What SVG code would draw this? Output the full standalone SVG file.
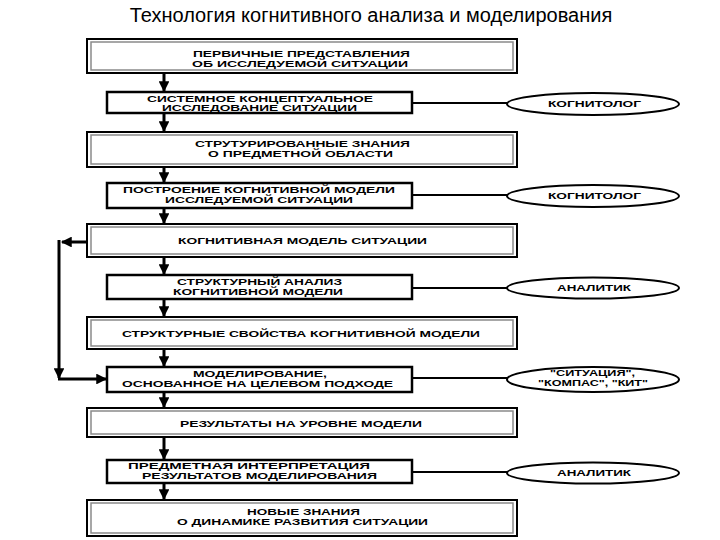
<svg xmlns="http://www.w3.org/2000/svg" width="720" height="540" viewBox="0 0 720 540">
<defs>
<style>
.title{font-family:"Liberation Sans",Arial,sans-serif;font-size:20px;fill:#000}
.t{font-family:"Liberation Sans",Arial,sans-serif;font-size:9.5px;font-weight:bold;fill:#000}
.bo{fill:#fff;stroke:#000;stroke-width:2}
.bi{fill:none;stroke:#8a8a8a;stroke-width:1.5}
.sb{fill:#fff;stroke:#000;stroke-width:2.5}
.el{fill:#fff;stroke:#000;stroke-width:2}
.ln{fill:none;stroke:#000;stroke-width:3}
.cn{fill:none;stroke:#000;stroke-width:2.2}
</style>
<marker id="ah" viewBox="0 0 10 10" refX="9" refY="5" markerWidth="4" markerHeight="3.6" orient="auto" markerUnits="strokeWidth">
<path d="M0,0 L10,5 L0,10 Z" fill="#000"/>
</marker>
</defs>
<rect width="720" height="540" fill="#fff"/>
<text class="title" x="371" y="22" text-anchor="middle">Технология когнитивного анализа и моделирования</text>

<g id="connectors">
<line class="ln" x1="164" y1="73" x2="164" y2="91" marker-end="url(#ah)"/>
<line class="ln" x1="164" y1="113" x2="164" y2="131" marker-end="url(#ah)"/>
<line class="ln" x1="164" y1="167" x2="164" y2="182" marker-end="url(#ah)"/>
<line class="ln" x1="164" y1="208" x2="164" y2="223" marker-end="url(#ah)"/>
<line class="ln" x1="164" y1="257" x2="164" y2="274" marker-end="url(#ah)"/>
<line class="ln" x1="164" y1="299" x2="164" y2="316" marker-end="url(#ah)"/>
<line class="ln" x1="164" y1="349" x2="164" y2="366" marker-end="url(#ah)"/>
<line class="ln" x1="164" y1="392" x2="164" y2="407" marker-end="url(#ah)"/>
<line class="ln" x1="164" y1="437" x2="164" y2="459" marker-end="url(#ah)"/>
<line class="ln" x1="164" y1="483" x2="164" y2="499" marker-end="url(#ah)"/>
<line class="ln" x1="87" y1="242" x2="62" y2="242" marker-end="url(#ah)"/>
<line class="ln" x1="59" y1="240" x2="59" y2="378" marker-end="url(#ah)"/>
<line class="ln" x1="58" y1="379" x2="106" y2="379" marker-end="url(#ah)"/>
<line class="cn" x1="412" y1="103" x2="507" y2="103"/>
<line class="cn" x1="412" y1="195" x2="507" y2="195"/>
<line class="cn" x1="412" y1="288" x2="507" y2="288"/>
<line class="cn" x1="412" y1="378" x2="507" y2="378"/>
<line class="cn" x1="412" y1="472" x2="507" y2="472"/>
</g>

<g id="b1">
<rect class="bo" x="87" y="39" width="430" height="34"/>
<rect class="bi" x="91" y="42" width="422" height="28"/>
<text class="t" x="193" y="57" textLength="217" lengthAdjust="spacingAndGlyphs">ПЕРВИЧНЫЕ ПРЕДСТАВЛЕНИЯ</text>
<text class="t" x="192" y="67" textLength="216" lengthAdjust="spacingAndGlyphs">ОБ ИССЛЕДУЕМОЙ СИТУАЦИИ</text>
</g>
<g id="s2">
<rect class="sb" x="107" y="92" width="305" height="21"/>
<text class="t" x="147" y="101.5" textLength="226" lengthAdjust="spacingAndGlyphs">СИСТЕМНОЕ КОНЦЕПТУАЛЬНОЕ</text>
<text class="t" x="162" y="111" textLength="195" lengthAdjust="spacingAndGlyphs">ИССЛЕДОВАНИЕ СИТУАЦИИ</text>
</g>
<g id="b3">
<rect class="bo" x="87" y="132" width="430" height="35"/>
<rect class="bi" x="91" y="135" width="422" height="29"/>
<text class="t" x="195" y="147" textLength="215" lengthAdjust="spacingAndGlyphs">СТРУТУРИРОВАННЫЕ ЗНАНИЯ</text>
<text class="t" x="208" y="157" textLength="185" lengthAdjust="spacingAndGlyphs">О ПРЕДМЕТНОЙ ОБЛАСТИ</text>
</g>
<g id="s4">
<rect class="sb" x="107" y="183" width="305" height="25"/>
<text class="t" x="123" y="193" textLength="272" lengthAdjust="spacingAndGlyphs">ПОСТРОЕНИЕ КОГНИТИВНОЙ МОДЕЛИ</text>
<text class="t" x="165" y="203" textLength="188" lengthAdjust="spacingAndGlyphs">ИССЛЕДУЕМОЙ СИТУАЦИИ</text>
</g>
<g id="b5">
<rect class="bo" x="87" y="224" width="430" height="33"/>
<rect class="bi" x="91" y="227" width="422" height="27"/>
<text class="t" x="178" y="244" textLength="249" lengthAdjust="spacingAndGlyphs">КОГНИТИВНАЯ МОДЕЛЬ СИТУАЦИИ</text>
</g>
<g id="s6">
<rect class="sb" x="107" y="275" width="305" height="24"/>
<text class="t" x="177" y="285" textLength="165" lengthAdjust="spacingAndGlyphs">СТРУКТУРНЫЙ АНАЛИЗ</text>
<text class="t" x="173" y="295" textLength="170" lengthAdjust="spacingAndGlyphs">КОГНИТИВНОЙ МОДЕЛИ</text>
</g>
<g id="b7">
<rect class="bo" x="87" y="317" width="430" height="32"/>
<rect class="bi" x="91" y="320" width="422" height="26"/>
<text class="t" x="122" y="337" textLength="358" lengthAdjust="spacingAndGlyphs">СТРУКТУРНЫЕ СВОЙСТВА КОГНИТИВНОЙ МОДЕЛИ</text>
</g>
<g id="s8">
<rect class="sb" x="107" y="367" width="305" height="25"/>
<text class="t" x="193" y="377" textLength="134" lengthAdjust="spacingAndGlyphs">МОДЕЛИРОВАНИЕ,</text>
<text class="t" x="122" y="387" textLength="271" lengthAdjust="spacingAndGlyphs">ОСНОВАННОЕ НА ЦЕЛЕВОМ ПОДХОДЕ</text>
</g>
<g id="b9">
<rect class="bo" x="87" y="408" width="430" height="29"/>
<rect class="bi" x="91" y="411" width="422" height="23"/>
<text class="t" x="180" y="427" textLength="242" lengthAdjust="spacingAndGlyphs">РЕЗУЛЬТАТЫ НА УРОВНЕ МОДЕЛИ</text>
</g>
<g id="s10">
<rect class="sb" x="107" y="460" width="305" height="23"/>
<text class="t" x="128" y="469" textLength="242" lengthAdjust="spacingAndGlyphs">ПРЕДМЕТНАЯ ИНТЕРПРЕТАЦИЯ</text>
<text class="t" x="142" y="479" textLength="235" lengthAdjust="spacingAndGlyphs">РЕЗУЛЬТАТОВ МОДЕЛИРОВАНИЯ</text>
</g>
<g id="b11">
<rect class="bo" x="87" y="500" width="430" height="36"/>
<rect class="bi" x="91" y="503" width="422" height="30"/>
<text class="t" x="247" y="515" textLength="113" lengthAdjust="spacingAndGlyphs">НОВЫЕ ЗНАНИЯ</text>
<text class="t" x="177" y="525" textLength="251" lengthAdjust="spacingAndGlyphs">О ДИНАМИКЕ РАЗВИТИЯ СИТУАЦИИ</text>
</g>

<g id="e1">
<ellipse class="el" cx="593" cy="104" rx="86" ry="11"/>
<text class="t" x="548" y="107" textLength="93" lengthAdjust="spacingAndGlyphs">КОГНИТОЛОГ</text>
</g>
<g id="e2">
<ellipse class="el" cx="593" cy="196" rx="86" ry="11"/>
<text class="t" x="548" y="199" textLength="93" lengthAdjust="spacingAndGlyphs">КОГНИТОЛОГ</text>
</g>
<g id="e3">
<ellipse class="el" cx="593" cy="288" rx="86" ry="10.5"/>
<text class="t" x="557" y="291" textLength="74" lengthAdjust="spacingAndGlyphs">АНАЛИТИК</text>
</g>
<g id="e4">
<ellipse class="el" cx="593" cy="379.5" rx="86" ry="12.5"/>
<text class="t" x="550" y="376" textLength="85" lengthAdjust="spacingAndGlyphs">"СИТУАЦИЯ",</text>
<text class="t" x="538" y="386" textLength="110" lengthAdjust="spacingAndGlyphs">"КОМПАС", "КИТ"</text>
</g>
<g id="e5">
<ellipse class="el" cx="593" cy="473" rx="86" ry="10.5"/>
<text class="t" x="557" y="476" textLength="74" lengthAdjust="spacingAndGlyphs">АНАЛИТИК</text>
</g>
</svg>
